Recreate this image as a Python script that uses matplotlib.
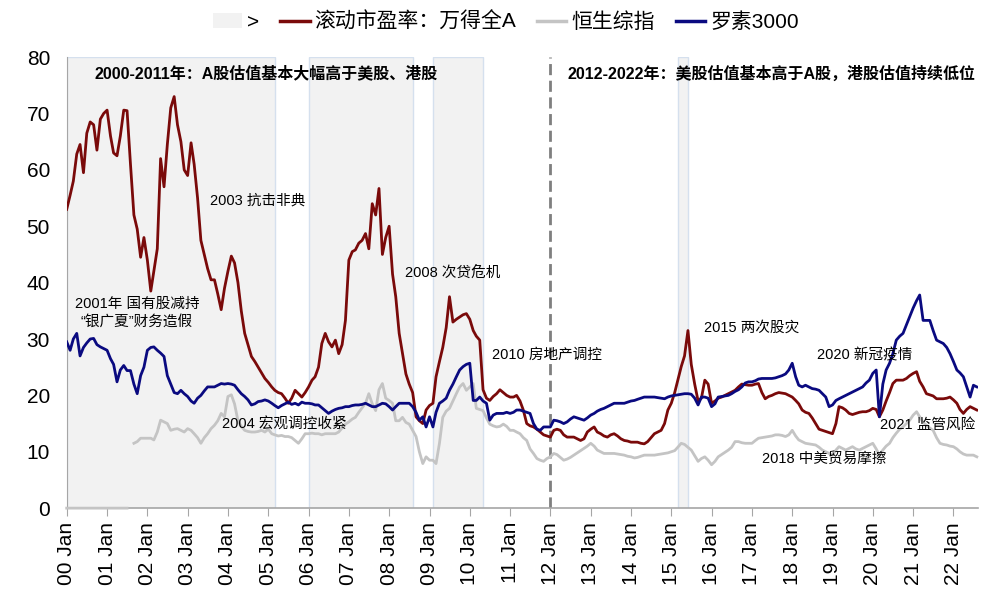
import numpy as np
import pandas as pd
import matplotlib
matplotlib.use("Agg")
import matplotlib.pyplot as plt
from matplotlib.patches import Patch
from matplotlib.lines import Line2D

plt.rcParams['font.family'] = ['Liberation Sans', 'Noto Sans CJK SC', 'DejaVu Sans']

# monthly, 2000-01 .. 2022-08
dates = pd.date_range('2000-01-01', periods=272, freq='MS')

# 滚动市盈率：万得全A
pe_a = [
    53, 55.5, 58, 62.8, 64.5, 59.5, 66.5, 68.5, 68, 63.5, 69, 70,              # 2000
    70.6, 66, 63, 62.5, 66, 70.6, 70.5, 61, 52, 49.5, 44.5, 48,                 # 2001
    44, 38.5, 42, 46, 62, 57, 64.5, 71, 73, 68, 65, 60,                         # 2002
    59, 64.8, 61, 55, 47.5, 45, 42.5, 40.5, 40.5, 38, 35.2, 39,                 # 2003
    42, 44.7, 43.5, 40, 35, 31, 29, 26.9, 26, 25, 24, 23,                       # 2004
    22.3, 21.5, 20.9, 20.5, 20.3, 19.5, 18.6, 19.5, 20.9, 20.3, 19.7, 20.5,     # 2005
    21.5, 22.7, 23.3, 25, 29.2, 31, 29.5, 28.6, 29.8, 27.4, 29, 33.3,           # 2006
    44, 45.5, 45.8, 47, 47.5, 48.7, 46, 54, 52, 56.7, 45, 48,                   # 2007
    50, 41.5, 37.5, 31, 27.5, 23.8, 22, 20.5, 16.2, 15.5, 15, 17.4,             # 2008
    18.2, 18.6, 23.3, 26, 28.5, 32, 37.5, 33, 33.5, 33.9, 34.3, 34.5,           # 2009
    33.5, 31.5, 30.5, 29.8, 21, 19.5, 19.1, 19.8, 20.3, 21, 20.5, 20,           # 2010
    19.7, 19.7, 20, 19, 17.4, 15, 14.6, 14.4, 14, 13.5, 13, 12.8,               # 2011
    12.6, 13.8, 14, 13.8, 13, 12.6, 12.6, 12.6, 12.3, 12, 12.3, 13.5,           # 2012
    14, 14.4, 13.5, 13.2, 12.8, 12.6, 13, 13.2, 12.8, 12.3, 12, 11.9,           # 2013
    11.7, 11.7, 11.7, 11.5, 11.4, 11.8, 12.5, 13.2, 13.5, 13.8, 15, 17.4,       # 2014
    18.6, 20.5, 22.7, 25.1, 27, 31.5, 25.5, 22, 19, 19.5, 22.7, 22,             # 2015
    18.6, 19, 19.5, 19.7, 20, 20.3, 20.6, 20.9, 21.5, 22, 21.9, 21.8,           # 2016
    21.8, 22, 22.1, 20.5, 19.4, 19.8, 20, 20.3, 20.5, 20.4, 20.3, 20,           # 2017
    19.7, 19.1, 18.5, 17.4, 17, 16.8, 16, 15, 14, 13.8, 13.6, 13.4,             # 2018
    13.2, 15, 18, 17.8, 17.4, 16.8, 16.6, 16.8, 17, 17.1, 17.1, 17.3,           # 2019
    17.7, 17.5, 16.2, 17.4, 19, 20.5, 22.1, 22.7, 22.7, 22.7, 23, 23.5,         # 2020
    23.9, 24.2, 22.5, 21.5, 20.3, 20.1, 19.9, 19.4, 19.4, 19.4, 19.5, 19.7,     # 2021
    19.2, 18.6, 17.5, 16.8, 17.5, 18, 17.7, 17.4,                               # 2022
]

# 恒生综指 (0 before data starts, gap in 2001-08)
pe_hk = [0] * 19 + [np.nan] + [
    11.5, 11.8, 12.4, 12.4,                                                     # 2001 Sep-Dec
    12.4, 12.4, 12.1, 13.5, 15.6, 15.3, 15, 13.8, 14, 14.1, 13.8, 13.5,         # 2002
    14.1, 13.8, 13.2, 12.5, 11.5, 12.5, 13.2, 14.1, 14.7, 15.5, 16.8, 16.2,     # 2003
    19.8, 20.1, 18.5, 15.5, 14.5, 13.8, 13.6, 13.5, 13.5, 13.6, 13.8, 13.5,     # 2004
    14, 13.2, 13, 12.8, 12.9, 12.7, 12.7, 12.5, 12, 11.5, 12.3, 13.2,           # 2005
    13.2, 13.3, 13.2, 13.2, 13, 13.2, 13.2, 13.2, 13.2, 13.5, 14.2, 14.9,       # 2006
    15.3, 15.8, 16.1, 17, 17.8, 18.6, 20.3, 18.5, 17.3, 21, 22.1, 19.5,         # 2007
    19.1, 18.6, 15.5, 15.5, 16.1, 15.2, 14.9, 13.8, 12.7, 10, 7.9, 9.1,         # 2008
    8.5, 8.5, 7.9, 11.5, 16.1, 17.2, 17.7, 19, 20.3, 21.5, 22.1, 20.9,          # 2009
    21.5, 22.1, 17.7, 17.5, 17.3, 16, 14.9, 14.6, 14.4, 14.5, 14.9, 14.5,       # 2010
    13.8, 13.8, 13.5, 13.2, 12.5, 12, 10.5, 9.7, 8.8, 8.5, 8.3, 8.8,            # 2011
    9.1, 9.7, 9.5, 9, 8.5, 8.7, 9, 9.4, 9.8, 10.2, 10.6, 11,                    # 2012
    11.5, 11, 10.3, 10, 9.7, 9.7, 9.7, 9.7, 9.6, 9.5, 9.4, 9.2,                 # 2013
    9.1, 8.9, 9, 9.2, 9.4, 9.4, 9.4, 9.4, 9.5, 9.6, 9.7, 9.8,                   # 2014
    10, 10.2, 10.8, 11.5, 11.3, 10.8, 10.3, 9.3, 8.3, 8.8, 9.1, 8.5,            # 2015
    7.7, 8.3, 9.1, 9.5, 9.9, 10.3, 10.8, 11.8, 11.8, 11.6, 11.5, 11.5,          # 2016
    11.5, 12, 12.4, 12.5, 12.6, 12.7, 12.8, 13, 13, 12.9, 12.7, 13,             # 2017
    13.8, 12.8, 12.1, 11.8, 11.5, 11.4, 11.3, 11.2, 10.8, 10.3, 10, 9.7,        # 2018
    9.4, 10.3, 10.9, 10.6, 10.3, 10.6, 10.9, 10.5, 10.3, 10.6, 10.9, 11.2,      # 2019
    11.5, 10.5, 9.4, 10.3, 11, 11.5, 12.5, 13.3, 14, 14.4, 15, 15.6,            # 2020
    16.5, 17.1, 16.2, 15.2, 14.7, 14.2, 13.8, 12.5, 11.5, 11.3, 11.2, 11,       # 2021
    10.9, 10.5, 10, 9.6, 9.4, 9.4, 9.4, 9.1,                                    # 2022
]

# 罗素3000
pe_us = [
    29.5, 28, 30, 31, 27, 28.5, 29.3, 30, 30.1, 29, 28.6, 28.3,                 # 2000
    28, 26.5, 25.5, 22.4, 24.5, 25.3, 24.4, 24.4, 22, 20.3, 23.5, 25,           # 2001
    28, 28.5, 28.6, 28, 27.5, 26.9, 23.5, 22, 20.5, 20.3, 20.9, 20.3,           # 2002
    19.8, 19, 18.6, 19.5, 20, 20.8, 21.5, 21.5, 21.5, 21.8, 22.1, 22,           # 2003
    22.1, 22, 21.8, 21, 20.3, 19.8, 19.2, 18.3, 18.5, 18.9, 19, 19.2,           # 2004
    19, 18.6, 18.2, 17.8, 18.2, 18.5, 18.8, 18.4, 18.6, 18.3, 18.8, 18.6,       # 2005
    18.6, 18.5, 18.3, 18.3, 17.8, 17.3, 16.8, 17.2, 17.5, 17.7, 17.8, 18,       # 2006
    18, 18.2, 18.3, 18.3, 18.4, 18.6, 18.3, 18, 18, 18.3, 18.6, 18.5,           # 2007
    18, 17.4, 18, 18.6, 18.6, 18.6, 18.6, 18, 17, 15.6, 16.2, 14.4,             # 2008
    16.2, 14.4, 17, 18.6, 19, 19.5, 20.9, 22, 23.3, 24.5, 25.1, 25.5,           # 2009
    25.7, 19.1, 19.1, 19.7, 19, 18.6, 15.6, 16.5, 16.8, 16.8, 16.8, 17,         # 2010
    16.8, 17, 17.4, 17.4, 17.2, 17, 16.8, 15, 14, 13.8, 14.4, 14.4,             # 2011
    14.4, 15.6, 15.5, 15.3, 15, 15.3, 15.8, 16.2, 16, 15.8, 15.6, 16,           # 2012
    16.5, 16.8, 17.2, 17.5, 17.7, 18, 18.3, 18.6, 18.6, 18.6, 18.6, 18.8,       # 2013
    19, 19.1, 19.3, 19.5, 19.7, 19.7, 19.7, 19.7, 19.6, 19.5, 19.4, 19.7,       # 2014
    19.9, 20, 20.1, 20.2, 20.3, 20.3, 20.2, 19.5, 18.3, 19.7, 19.7, 19.5,       # 2015
    18, 18.5, 19.7, 19.8, 19.9, 20, 20.3, 20.7, 21, 21.5, 22.2, 22.4,           # 2016
    22.4, 22.6, 22.9, 23, 23, 23, 23, 23.1, 23.3, 23.5, 23.8, 24.5,             # 2017
    25.7, 23.3, 21.8, 21.5, 21.8, 21.5, 21.2, 21.1, 20.9, 20.3, 19.7, 18,       # 2018
    18.3, 19.1, 19.4, 19.7, 20, 20.3, 20.6, 20.9, 21.2, 21.5, 22.2, 22.7,       # 2019
    23.9, 24.5, 16.2, 22, 24.5, 25.7, 27.4, 29.8, 30.5, 31, 32.5, 33.9,         # 2020
    35.5, 36.8, 37.8, 33.3, 33.3, 33.3, 31.5, 29.8, 29.5, 29.2, 28.5, 27.4,     # 2021
    26, 24.5, 24, 23.3, 21.5, 19.7, 21.8, 21.5,                                 # 2022
]

# shaded periods
span_start = ['2000-01-01', '2006-01-01', '2009-02-01', '2015-03-01']
span_end = ['2005-03-01', '2008-08-01', '2010-05-01', '2015-06-01']

# event labels (axes fraction positions)
events = ['2003 抗击非典', '2001年 国有股减持\n“银广夏”财务造假', '2008 次贷危机',
          '2010 房地产调控', '2004 宏观调控收紧', '2015 两次股灾', '2020 新冠疫情',
          '2021 监管风险', '2018 中美贸易摩擦']
event_pos = [(0.157, 0.681), (0.077, 0.433), (0.371, 0.521), (0.467, 0.339),
             (0.170, 0.188), (0.700, 0.401), (0.823, 0.339), (0.893, 0.184),
             (0.763, 0.109)]
event_ha = ['left', 'center', 'left', 'left', 'left', 'left', 'left', 'left', 'left']

c_red = '#7a0a0a'
c_gray = '#c4c4c4'
c_blue = '#0a0a80'

fig = plt.figure(figsize=(10.06, 5.95), dpi=100)
ax = fig.add_axes([0.0663, 0.146, 0.9057, 0.758])

for s, e in zip(span_start, span_end):
    ax.axvspan(pd.Timestamp(s), pd.Timestamp(e), facecolor='#f2f2f2',
               edgecolor='#d5e0ee', lw=1, zorder=0)

ax.axvline(pd.Timestamp('2012-01-01'), color='#7f7f7f', lw=2, ls=(0, (4, 2)), zorder=1)

ax.plot(dates, pe_a, color=c_red, lw=2, zorder=3)
ax.plot(dates, pe_hk, color=c_gray, lw=2, zorder=2.8, clip_on=False)
ax.plot(dates, pe_us, color=c_blue, lw=2, zorder=4)

ax.set_ylim(0, 80)
ax.set_xlim(pd.Timestamp('2000-01-01'), pd.Timestamp('2022-08-10'))
ax.set_yticks(range(0, 81, 10))
ax.tick_params(axis='y', length=0, labelsize=15, pad=12)

years = pd.date_range('2000-01-01', '2022-01-01', freq='YS')
ax.set_xticks(years)
ax.set_xticklabels(['%02d Jan' % (d.year % 100) for d in years], rotation=90)
ax.tick_params(axis='x', direction='out', length=6, color='#a6a6a6', labelsize=15, pad=4)

for side in ['top', 'right']:
    ax.spines[side].set_visible(False)
ax.spines['left'].set_color('#a6a6a6')
ax.spines['bottom'].set_color('#a6a6a6')
ax.spines['bottom'].set_linewidth(1.2)

ax.text(0.031, 0.963, '2000-2011年：A股估值基本大幅高于美股、港股', transform=ax.transAxes,
        fontsize=11.5, fontweight='bold', va='center', ha='left')
ax.text(0.55, 0.963, '2012-2022年：美股估值基本高于A股，港股估值持续低位', transform=ax.transAxes,
        fontsize=11.5, fontweight='bold', va='center', ha='left')

for txt, (px, py), ha in zip(events, event_pos, event_ha):
    ax.text(px, py, txt, transform=ax.transAxes, fontsize=10.5, va='center', ha=ha,
            linespacing=1.4, zorder=5)

handles = [Patch(facecolor='#f2f2f2', edgecolor='none'),
           Line2D([], [], color=c_red, lw=2.5),
           Line2D([], [], color=c_gray, lw=2.5),
           Line2D([], [], color=c_blue, lw=2.5)]
labels = ['>', '滚动市盈率：万得全A', '恒生综指', '罗素3000']
fig.legend(handles, labels, loc='center', bbox_to_anchor=(0.503, 0.963), ncol=4,
           frameon=False, fontsize=15, handlelength=1.4, handletextpad=0.25,
           columnspacing=1.0)

fig.savefig('out.png', dpi=100)
